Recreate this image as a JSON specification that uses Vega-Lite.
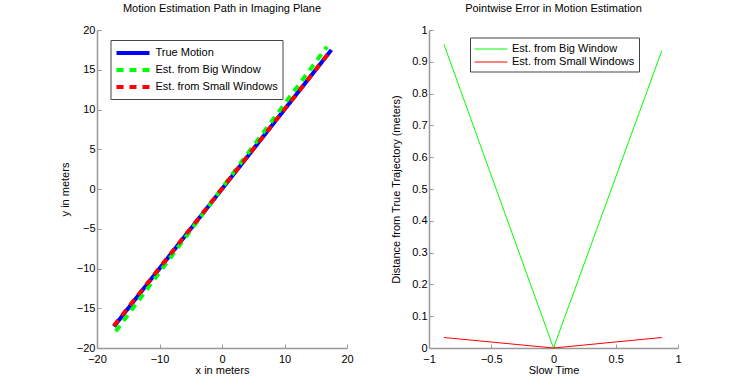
{
  "$schema": "https://vega.github.io/schema/vega-lite/v6.json",
  "padding": {"left": 59, "top": 3, "right": 0, "bottom": 0},
  "background": "white",
  "config": {
    "font": "Liberation Sans",
    "view": {"stroke": null},
    "axis": {
      "domainColor": "#999999",
      "tickColor": "#999999",
      "tickSize": -4,
      "grid": false,
      "labelFont": "Liberation Sans",
      "labelFontSize": 11,
      "labelColor": "#000000",
      "labelFlush": false,
      "titleFont": "Liberation Sans",
      "titleFontSize": 11,
      "titleFontWeight": "normal",
      "titleColor": "#000000",
      "labelPadding": 6,
      "domainWidth": 1.5
    },
    "axisX": {"labelPadding": 9, "titlePadding": 0},
    "title": {"font": "Liberation Sans", "fontSize": 11, "fontWeight": "normal", "color": "#000000", "offset": 10},
    "legend": {
      "labelFont": "Liberation Sans",
      "labelFontSize": 11,
      "labelColor": "#000000",
      "strokeColor": "#444444",
      "fillColor": "white",
      "padding": 4,
      "title": null,
      "symbolType": "M-1,0H3.71",
      "symbolSize": 196,
      "rowPadding": 0,
      "labelOffset": 23
    }
  },
  "datasets": {
    "path": [
      {"series": "True Motion", "x": -17.3, "y": -17.3, "o": 0},
      {"series": "True Motion", "x": 17.5, "y": 17.5, "o": 1},
      {"series": "Est. from Big Window", "x": -17.0, "y": -17.9, "o": 0},
      {"series": "Est. from Big Window", "x": 16.8, "y": 17.9, "o": 1},
      {"series": "Est. from Small Windows", "x": -17.3, "y": -17.2, "o": 0},
      {"series": "Est. from Small Windows", "x": 17.5, "y": 17.5, "o": 1}
    ],
    "err": [
      {"series": "Est. from Big Window", "t": -0.88, "d": 0.955},
      {"series": "Est. from Big Window", "t": 0.0, "d": 0.0},
      {"series": "Est. from Big Window", "t": 0.87, "d": 0.935},
      {"series": "Est. from Small Windows", "t": -0.88, "d": 0.033},
      {"series": "Est. from Small Windows", "t": 0.0, "d": 0.0},
      {"series": "Est. from Small Windows", "t": 0.87, "d": 0.033}
    ]
  },
  "hconcat": [
    {
      "title": "Motion Estimation Path in Imaging Plane",
      "width": 250,
      "height": 318,
      "data": {"name": "path"},
      "mark": {"type": "line", "strokeWidth": 4, "strokeCap": "butt", "clip": false},
      "encoding": {
        "x": {"field": "x", "type": "quantitative", "scale": {"domain": [-20, 20], "nice": false, "zero": false}, "axis": {"values": [-20, -10, 0, 10, 20], "format": "d", "title": "x in meters"}},
        "y": {"field": "y", "type": "quantitative", "scale": {"domain": [-20, 20], "nice": false, "zero": false}, "axis": {"values": [-20, -15, -10, -5, 0, 5, 10, 15, 20], "format": "d", "title": "y in meters", "titlePadding": 6}},
        "order": {"field": "o"},
        "color": {
          "field": "series", "type": "nominal",
          "scale": {"domain": ["True Motion", "Est. from Big Window", "Est. from Small Windows"], "range": ["#0000ff", "#00ff00", "#ff0000"]},
          "legend": {"orient": "none", "legendX": 13.5, "legendY": 10, "symbolStrokeWidth": 4}
        },
        "strokeDash": {
          "field": "series", "type": "nominal",
          "scale": {"domain": ["True Motion", "Est. from Big Window", "Est. from Small Windows"], "range": [[1, 0], [7, 6], [7, 6]]},
          "legend": {"orient": "none", "legendX": 13.5, "legendY": 10, "symbolStrokeWidth": 4}
        }
      }
    },
    {
      "title": "Pointwise Error in Motion Estimation",
      "width": 249,
      "height": 318,
      "data": {"name": "err"},
      "mark": {"type": "line", "strokeWidth": 1, "clip": false},
      "encoding": {
        "x": {"field": "t", "type": "quantitative", "scale": {"domain": [-1, 1], "nice": false, "zero": false}, "axis": {"values": [-1, -0.5, 0, 0.5, 1], "format": "~g", "title": "Slow Time"}},
        "y": {"field": "d", "type": "quantitative", "scale": {"domain": [0, 1], "nice": false}, "axis": {"values": [0, 0.1, 0.2, 0.3, 0.4, 0.5, 0.6, 0.7, 0.8, 0.9, 1], "format": "~g", "title": "Distance from True Trajectory (meters)", "titlePadding": 10}},
        "color": {
          "field": "series", "type": "nominal",
          "scale": {"domain": ["Est. from Big Window", "Est. from Small Windows"], "range": ["#00ff00", "#ff0000"]},
          "legend": {"orient": "none", "legendX": 41, "legendY": 7.5, "symbolStrokeWidth": 1}
        }
      }
    }
  ],
  "spacing": 36,
  "resolve": {"scale": {"color": "independent", "strokeDash": "independent"}, "legend": {"color": "independent", "strokeDash": "independent"}}
}
